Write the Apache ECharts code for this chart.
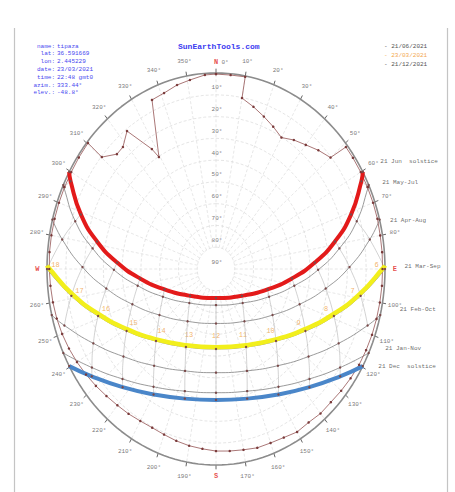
<!DOCTYPE html>
<html>
<head>
<meta charset="utf-8">
<script src="https://cdn.jsdelivr.net/npm/echarts@6/dist/echarts.min.js"></script>
<style>
html,body{margin:0;padding:0;background:#fff}
#chart{width:455px;height:492px}
</style>
</head>
<body>
<div id="chart"></div>
<script>
// sun paths, morning half as [azimuth, elevation], one point per solar hour up to noon
var dateNames = ['21 Jun  solstice', '21 May-Jul', '21 Apr-Aug', '21 Mar-Sep', '21 Feb-Oct', '21 Jan-Nov', '21 Dec  solstice'];
var sunriseAz = [60.3, 64.6, 75.4, 90, 103.6, 115.4, 119.7];
var firstHour = [5, 5, 6, 6, 7, 8, 8];
var junPts = [[62.5,2.7],[70.8,13.8],[78.7,25.4],[86.8,37.3],[96.1,49.3],[108.8,61.0],[131.7,71.5],[180,76.7]];
var mayPts = [[65.1,0.6],[73.7,11.9],[81.8,23.6],[90.4,35.6],[100.4,47.6],[114.2,59.0],[137.7,68.9],[180,73.4]];
var aprPts = [[80.6,7.0],[89.3,18.9],[98.7,30.9],[110.0,42.6],[125.1,53.2],[147.8,61.6],[180,65.0]];
var marPts = [[90,0],[99.1,12.0],[109.0,23.6],[120.9,34.5],[136.0,44.0],[155.9,50.8],[180,53.3]];
var febPts = [[107.8,5.2],[117.6,16.3],[129.2,26.4],[143.4,34.7],[160.6,40.4],[180,42.4]];
var janPts = [[124.4,9.9],[135.4,19.1],[148.4,26.5],[163.5,31.5],[180,33.2]];
var decPts = [[126.7,7.5],[137.5,16.4],[150.0,23.5],[164.4,28.2],[180,29.9]];
var pathPts = [junPts, mayPts, aprPts, marPts, febPts, janPts, decPts];

// today (23/03) path, solar hours 6..12
var todaySunrise = 89.0;
var todayPts = [[89.4,0.5],[98.5,12.5],[108.4,24.2],[120.2,35.1],[135.4,44.6],[155.4,51.5],[180,54.1]];
var hourLabels = ['6','7','8','9','10','11','12','13','14','15','16','17','18'];

// horizon profile [azimuth, elevation]
var horizonPts = [[0,0.5],[5,0.6],[10,0.4],[10,10.3],[15,12.9],[20,15.5],[25,17.9],[30,20.3],[35,17.7],[40,15.6],[45,12.9],[50,10.4],[51,1.0],[55,1.0],[60,1.0],[65,1.0],[70,1.0],[75,1.0],[80,1.2],[85,1.2],[90,1.3],[95,1.3],[100,1.4],[105,1.5],[110,1.6],[115,1.8],[120,2.0],[125,2.5],[130,3.0],[135,3.5],[140,3.4],[145,4.0],[150,3.6],[155,4.6],[160,5.0],[165,5.0],[170,5.7],[175,6.1],[180,6.4],[185,7.1],[190,7.6],[195,8.3],[200,9.1],[205,9.6],[210,9.4],[215,8.8],[220,8.3],[225,7.5],[230,6.5],[235,5.5],[240,4.5],[245,3.6],[250,2.8],[255,2.2],[260,1.8],[265,1.5],[270,1.2],[275,1.0],[280,1.0],[285,1.0],[290,1.0],[295,1.0],[300,1.0],[305,0.8],[310.3,0.6],[310.2,10.4],[315,15.4],[318.5,15.2],[323.2,10.9],[328.2,25.2],[329.4,30.3],[336.3,5.2],[341.1,4.6],[346.2,3.0],[350.9,2.1],[356.2,0.7],[360,0.5]];

var elevTicks = [10, 20, 30, 40, 50, 60, 70, 80];
var azTicks = [];
for (var t = 0; t < 360; t += 10) azTicks.push(t);
var compass = [['N', 0], ['E', 90], ['S', 180], ['W', 270]];

var infoLabels = ['name:', 'lat:', 'lon:', 'date:', 'time:', 'azim.:', 'elev.:'];
var infoValues = ['tipaza', '36.591669', '2.445229', '23/03/2021', '22:48 gmt0', '333.44°', '-48.8°'];
var legendDates = ['21/06/2021', '23/03/2021', '21/12/2021'];

// label nudges (style only)
var dateLabelOffset = [[17,-10],[13,-2],[10,1],[19,-3],[19,-6],[16,-5],[15,0]];

function xy(az, el) {
    var r = (90 - el) / 90, a = az * Math.PI / 180;
    return [r * Math.sin(a), r * Math.cos(a)];
}
function mirror(p) { return [360 - p[0], p[1]]; }
function fullPath(rise, pts) {
    var morning = pts[0][1] === 0 ? pts.slice() : [[rise, 0]].concat(pts);
    var evening = morning.slice(0, -1).reverse().map(mirror);
    return morning.concat(evening).map(function (p) { return xy(p[0], p[1]); });
}
function line(data, color, width, type, extra) {
    var s = {
        type: 'line', data: data, showSymbol: false, silent: true, clip: false,
        animation: false, lineStyle: {color: color, width: width, type: type || 'solid'}
    };
    for (var k in extra) s[k] = extra[k];
    return s;
}

var series = [];
// elevation rings
elevTicks.forEach(function (el) {
    var ring = [];
    for (var a = 0; a <= 360; a += 5) ring.push(xy(a, el));
    series.push(line(ring, '#d4d4d4', 0.6, [3, 2]));
});
// azimuth spokes
azTicks.forEach(function (a) {
    series.push(line([xy(a, 80), xy(a, 0)], '#d6d6d6', 0.6, [3, 2]));
    series.push(line([xy(a, 0), xy(a, -2)], '#666', 1));
});
// horizon ring
var outer = [];
for (var a = 0; a <= 360; a += 2) outer.push(xy(a, 0));
series.push(line(outer, '#8c8c8c', 1.6));

// hour lines across the dates
for (var h = 5; h <= 19; h++) {
    var pts = [];
    pathPts.forEach(function (p, i) {
        var hh = h <= 12 ? h : 24 - h, k = hh - firstHour[i];
        if (k >= 0 && k < p.length) {
            var q = h <= 12 ? p[k] : mirror(p[k]);
            pts.push(xy(q[0], q[1]));
        }
    });
    if (pts.length > 1) series.push(line(pts, '#b4b4b4', 0.6, 'solid', {smooth: true}));
}

// thin date paths
pathPts.forEach(function (p, i) {
    series.push(line(fullPath(sunriseAz[i], p), '#808080', 0.8, 'solid', {
        smooth: true, showSymbol: true, symbol: 'circle', symbolSize: 2.4,
        itemStyle: {color: '#7a4a4a'}
    }));
});

// horizon profile
series.push(line(horizonPts.map(function (p) { return xy(p[0], p[1]); }), '#a06868', 0.9, 'solid', {
    showSymbol: true, symbol: 'circle', symbolSize: 2.5, itemStyle: {color: '#7a3a3a'}
}));

// thick paths
series.push(line(fullPath(sunriseAz[0], junPts), '#e31a1a', 4, 'solid', {smooth: true}));
series.push(line(fullPath(todaySunrise, todayPts), '#f2ef1c', 4.5, 'solid', {smooth: true}));
series.push(line(fullPath(sunriseAz[6], decPts), '#4a86c9', 4, 'solid', {smooth: true}));

// text marks
function textSeries(data, labelStyle) {
    return {
        type: 'scatter', data: data, symbolSize: 1, silent: true, animation: false, clip: false,
        itemStyle: {color: 'rgba(0,0,0,0)'},
        label: Object.assign({show: true, position: 'inside', formatter: function (p) { return p.value[2]; }}, labelStyle)
    };
}
var mono = 'Liberation Mono';
var azData = azTicks.filter(function (a) { return a % 90 !== 0 || a === 0; }).map(function (a) {
    var p = xy(a, -6.8);
    var item = {value: [p[0], p[1], a + '°']};
    if (a === 0) item.label = {offset: [9, 4]};
    return item;
});
series.push(textSeries(azData, {color: '#555', fontSize: 6, fontFamily: mono}));
series.push(textSeries(compass.map(function (c) {
    var p = xy(c[1], -5.2);
    return [p[0], p[1], c[0]];
}), {color: '#e02020', fontSize: 7, fontWeight: 'bold', fontFamily: mono}));
series.push(textSeries(elevTicks.concat([90]).map(function (el) {
    var p = xy(0, el);
    return [p[0], p[1], el + '°'];
}), {color: '#555', fontSize: 6, fontFamily: mono, offset: [1, -7]}));

var hourData = [];
todayPts.forEach(function (p) { hourData.push(p); });
todayPts.slice(0, -1).reverse().forEach(function (p) { hourData.push(mirror(p)); });
series.push(textSeries(hourData.map(function (p, k) {
    var q = xy(p[0], p[1] + 4);
    return [q[0], q[1], hourLabels[k]];
}), {color: '#f0a040', fontSize: 7, fontFamily: mono, offset: [0, -2]}));

series.push(textSeries(dateNames.map(function (n, i) {
    var p = xy(sunriseAz[i], 0);
    return {value: [p[0], p[1], n], label: {offset: dateLabelOffset[i]}};
}), {color: '#444', fontSize: 6, fontFamily: mono, position: 'right', distance: 0}));

// page decoration and header texts
var graphic = [
    {type: 'line', shape: {x1: 14.5, y1: 28, x2: 14.5, y2: 492}, style: {stroke: '#c4c4c4', lineWidth: 1.2}},
    {type: 'line', shape: {x1: 447.5, y1: 28, x2: 447.5, y2: 492}, style: {stroke: '#c4c4c4', lineWidth: 1.2}},
    {type: 'text', left: 178, top: 42, style: {text: 'SunEarthTools.com', fill: '#3b3bf0', font: 'bold 8px ' + mono}}
];
infoLabels.forEach(function (l, i) {
    graphic.push({type: 'text', x: 55, y: 43 + i * 7.8, style: {text: l, fill: '#4848f0', font: '6px ' + mono, textAlign: 'right'}});
    graphic.push({type: 'text', x: 57, y: 43 + i * 7.8, style: {text: infoValues[i], fill: '#4848f0', font: '6px ' + mono}});
});
var legendColors = ['#555', '#f3a850', '#555'];
legendDates.forEach(function (d, i) {
    graphic.push({type: 'text', x: 384, y: 43 + i * 9, style: {text: '- ' + d, fill: legendColors[i], font: '6px ' + mono}});
});

var chart = echarts.init(document.getElementById('chart'), null, {renderer: 'svg'});
chart.setOption({
    animation: false,
    backgroundColor: '#fff',
    grid: {left: 47, top: 73, width: 338, height: 392},
    xAxis: {type: 'value', min: -1, max: 1, show: false},
    yAxis: {type: 'value', min: -1, max: 1, show: false},
    graphic: graphic,
    series: series
});
</script>
</body>
</html>
